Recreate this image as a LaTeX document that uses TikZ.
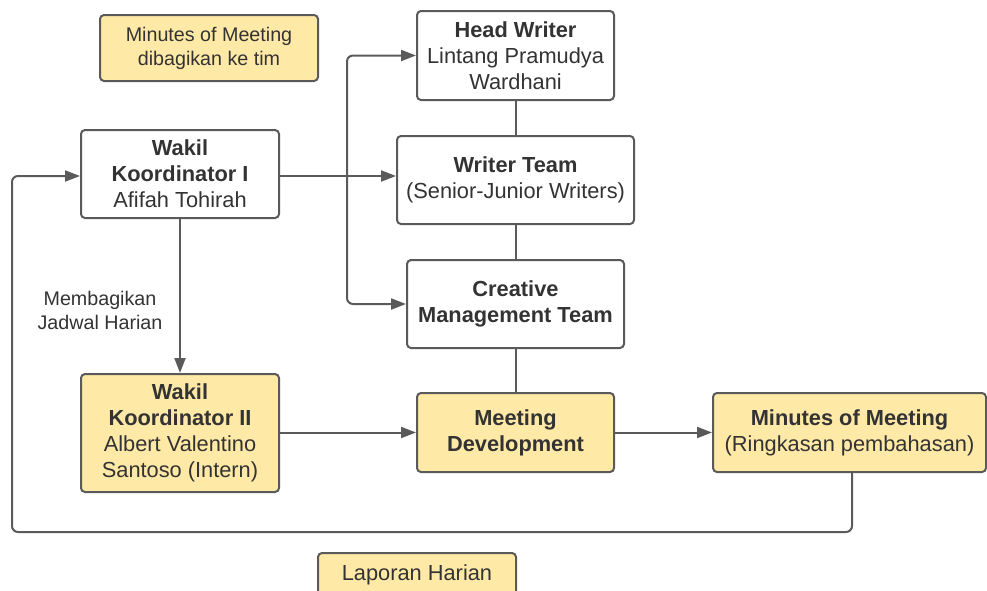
\documentclass[tikz,border=0pt]{standalone}
\usepackage{fontspec}
\setmainfont{Liberation Sans}
\usetikzlibrary{arrows.meta}
\definecolor{boxline}{RGB}{90,90,90}
\definecolor{boxtext}{RGB}{51,51,51}
\definecolor{notefill}{RGB}{255,233,166}
\tikzset{
  card/.style={draw=boxline, line width=2pt, rounded corners=4pt, fill=white,
    text=boxtext, align=center, inner sep=0pt,
    font=\fontsize{21.8}{26}\selectfont},
  note/.style={card, fill=notefill},
  small/.style={font=\fontsize{19.7}{24}\selectfont},
  conn/.style={draw=boxline, line width=2pt, rounded corners=6pt},
  arr/.style={conn, -{Triangle[length=15pt,width=11pt]}}
}

\begin{document}
\begin{tikzpicture}[x=1pt, y=-1pt]
			%%%%% START %%%%%
			\useasboundingbox (0,0) rectangle (987,590);
			
			\node[note, small, minimum width=218pt, minimum height=66pt] (momtim) at (209,48) {Minutes of Meeting\\dibagikan ke tim};
			
			\node[card, minimum width=197pt, minimum height=89pt] (head) at (515.5,55.5) {\textbf{Head Writer}\\Lintang Pramudya\\Wardhani};
			\node[card, minimum width=237pt, minimum height=88pt] (writers) at (515.5,180) {\textbf{Writer Team}\\(Senior-Junior Writers)};
			\node[card, minimum width=217pt, minimum height=88pt] (creative) at (515.5,304) {\textbf{Creative}\\\textbf{Management Team}};
			
			\node[card, minimum width=198pt, minimum height=88pt] (wk1) at (180,174) {\textbf{Wakil}\\\textbf{Koordinator I}\\Afifah Tohirah};
			\node[note, minimum width=198pt, minimum height=118pt] (wk2) at (180,433) {\textbf{Wakil}\\\textbf{Koordinator II}\\Albert Valentino\\Santoso (Intern)};
			
			\node[note, minimum width=197pt, minimum height=79pt] (meetdev) at (515.5,432.5) {\textbf{Meeting}\\\textbf{Development}};
			\node[note, minimum width=273pt, minimum height=79pt] (mom) at (849.5,432.5) {\textbf{Minutes of Meeting}\\(Ringkasan pembahasan)};
			
			\node[note, minimum width=198pt, minimum height=44pt] (laporan) at (417,575) {Laporan Harian};
			
			\node[small, text=boxtext, align=center] (bagi) at (100,310) {Membagikan\\Jadwal Harian};
			
			% team links
			\draw[conn] (head) -- (writers);
			\draw[conn] (writers) -- (creative);
			\draw[conn] (creative) -- (meetdev);
			
			% from wakil koordinator I
			\coordinate (split) at (347,176);
			\draw[arr] (wk1.east |- split) -- (writers.west |- split);
			\draw[arr] (split) |- (head.west);
			\draw[arr] (split) |- (creative.west);
			\draw[arr] (wk1) -- (wk2);
			
			% meeting flow
			\draw[arr] (wk2.east |- meetdev) -- (meetdev);
			\draw[arr] (meetdev) -- (mom);
			
			% back to wakil koordinator I
			\coordinate (back) at (12,532);
			\draw[arr] (mom.south -| 852,0) |- (back) |- (wk1.west |- split);
			
			%%%%% END %%%%%
\end{tikzpicture}
\end{document}
